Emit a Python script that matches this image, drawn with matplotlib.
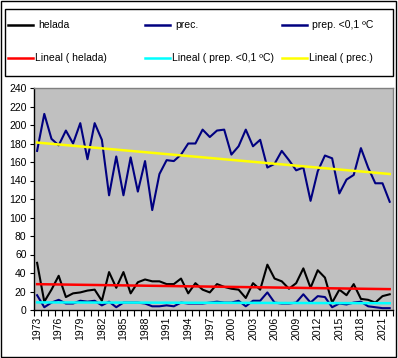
import numpy as np
import matplotlib
matplotlib.use('Agg')
import matplotlib.pyplot as plt
from matplotlib.lines import Line2D
from matplotlib.patches import Rectangle

years = np.arange(1973, 2023)

prec = [172, 212, 185, 178, 194, 180, 202, 163, 202, 184,
        124, 166, 124, 165, 128, 161, 108, 147, 162, 161,
        168, 180, 180, 195, 187, 194, 195, 168, 177, 195,
        177, 184, 154, 158, 172, 162, 151, 154, 118, 150,
        167, 164, 126, 141, 146, 175, 154, 137, 137, 117]

helada = [51, 9, 22, 37, 14, 18, 19, 21, 22, 10,
          41, 24, 41, 18, 30, 33, 31, 31, 28, 28,
          34, 18, 29, 22, 19, 28, 25, 23, 22, 13,
          29, 22, 49, 34, 31, 23, 29, 45, 24, 43,
          35, 8, 22, 16, 28, 12, 11, 8, 15, 17]

prep01 = [16, 3, 8, 11, 7, 7, 10, 9, 10, 5,
          9, 3, 8, 8, 8, 7, 4, 4, 5, 4,
          8, 7, 7, 7, 8, 9, 8, 8, 10, 4,
          10, 10, 19, 8, 7, 7, 8, 17, 8, 15,
          14, 3, 7, 6, 8, 9, 4, 3, 2, 2]

plt.rcParams['font.family'] = ['Liberation Sans', 'DejaVu Sans']
fs = 7.5

W, H = 398, 358
fig = plt.figure(figsize=(W / 100, H / 100), dpi=100)
ax = fig.add_axes([33.5 / W, 1 - 310 / H, (393.3 - 33.5) / W, (310 - 88) / H])
ax.set_facecolor('#C0C0C0')

x = np.arange(len(years))


def trend(y):
    k, b = np.polyfit(x, y, 1)
    return k * x + b


ax.plot(x, helada, color='black', lw=1.5)
ax.plot(x, prec, color='#000080', lw=1.5)
ax.plot(x, prep01, color='#000080', lw=1.5)
ax.plot(x, trend(helada), color='#FF0000', lw=1.8)
ax.plot(x, trend(prep01), color='#00FFFF', lw=1.8)
ax.plot(x, trend(prec), color='#FFFF00', lw=1.8)

ax.set_xlim(-0.5, len(years) - 0.5)
ax.set_ylim(0, 240)
ax.set_yticks(np.arange(0, 241, 20))
ax.set_xticks(x[::3])
ax.set_xticklabels([str(y) for y in years[::3]], rotation=90, fontsize=fs)
ax.set_xticks(np.arange(-0.5, len(years)), minor=True)
ax.tick_params(axis='x', which='major', length=0, pad=5)
ax.tick_params(axis='x', which='minor', length=4, width=0.8, direction='out')
ax.tick_params(axis='y', length=3, width=0.8, labelsize=fs, pad=2)

for s in ['top', 'right']:
    ax.spines[s].set_color('#808080')
    ax.spines[s].set_linewidth(1)
for s in ['left', 'bottom']:
    ax.spines[s].set_color('black')
    ax.spines[s].set_linewidth(1)

# outer border
fig.add_artist(Rectangle((0.5 / W, 1.5 / H), (W - 2.5) / W, (H - 2.5) / H,
                         transform=fig.transFigure, fill=False,
                         edgecolor='black', lw=1))

# legend box drawn by hand (Excel style, row-major)
fig.add_artist(Rectangle((5 / W, 1 - 76 / H), (393 - 5) / W, (76 - 9) / H,
                         transform=fig.transFigure, fill=False,
                         edgecolor='black', lw=1))

entries = [
    ('helada', 'black', 8, 25, 38),
    ('prec.', '#000080', 145, 25, 175),
    ('prep. <0,1 ºC', '#000080', 282, 25, 312),
    ('Lineal ( helada)', '#FF0000', 8, 58, 35),
    ('Lineal ( prep. <0,1 ºC)', '#00FFFF', 145, 58, 172),
    ('Lineal ( prec.)', '#FFFF00', 282, 58, 309),
]
for label, col, lx, ly, tx in entries:
    fig.add_artist(Line2D([lx / W, (lx + 25) / W], [1 - ly / H, 1 - ly / H],
                          transform=fig.transFigure, color=col, lw=1.8))
    fig.text(tx / W, 1 - ly / H, label, fontsize=fs, va='center', ha='left')

fig.savefig('out.png', dpi=100)
